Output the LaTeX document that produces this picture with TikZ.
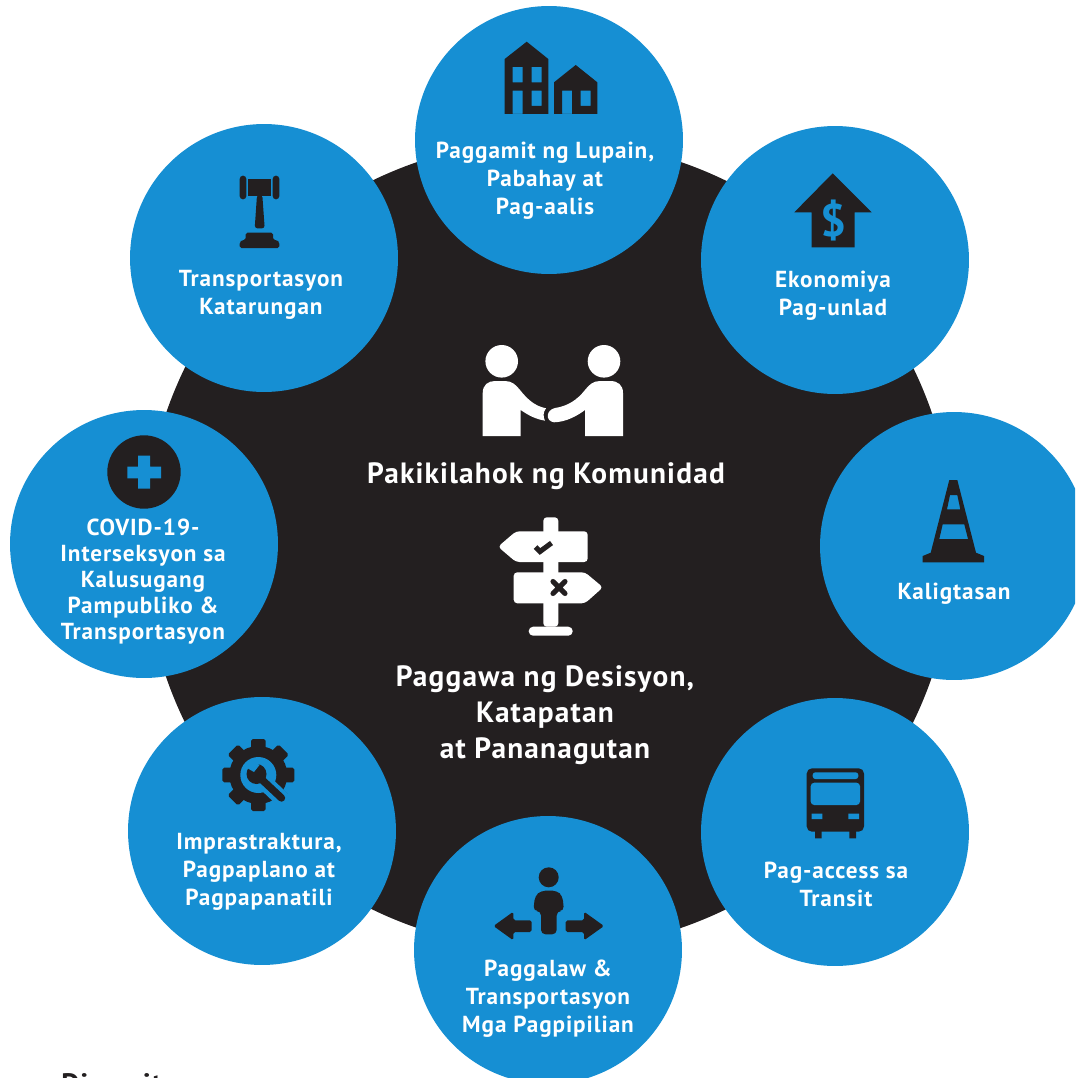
\documentclass[tikz,border=0pt]{standalone}
\usepackage{fontspec}
\setmainfont[LetterSpace=4]{PT Sans}
\definecolor{inkdark}{HTML}{231F20}
\definecolor{bubbleblue}{HTML}{168FD3}
\tikzset{
  bubble/.style={circle, fill=bubbleblue, minimum size=5.36cm, inner sep=0pt},
  bubbletext/.style={text=white, align=center, inner sep=0pt, font=\fontsize{13.2}{15.9}\selectfont\bfseries},
  hubtext/.style={text=white, align=center, inner sep=0pt, font=\fontsize{16.7}{20.5}\selectfont\bfseries},
  ink/.style={fill=inkdark},
  cutout/.style={fill=bubbleblue}
}

\begin{document}
\begin{tikzpicture}[x=0.02cm,y=-0.02cm]
            \path[use as bounding box,clip] (0,0) rectangle (1075,1078);

            % Hub
            \node[fill=inkdark, circle, minimum size=16.2cm, inner sep=0pt] (hub) at (549,545) {};

            % Bubbles
            \node[bubble] (lupain) at (549,140) {};
            \node[bubble] (ekonomiya) at (835,260) {};
            \node[bubble] (kaligtasan) at (954,546) {};
            \node[bubble] (transit) at (835,832) {};
            \node[bubble] (paggalaw) at (548,950) {};
            \node[bubble] (imprastraktura) at (262,831) {};
            \node[bubble] (covid) at (144,544) {};
            \node[bubble] (katarungan) at (264,258) {};

            % Houses
            \fill[ink, even odd rule] (526.7,41.7) -- (548.3,59) -- (548.3,114) -- (504.7,114) -- (504.7,59) -- cycle
                (512.7,67) rectangle (522.7,82.3) (531.7,67) rectangle (541.7,82.3)
                (512.7,90.7) rectangle (522.7,114) (531.7,90.7) rectangle (541.7,106);
            \fill[ink, even odd rule] (575.7,65) -- (597.3,82.3) -- (597.3,114) -- (554,114) -- (554,82.3) -- cycle
                (562,90.7) rectangle (572,114) (580.7,90.7) rectangle (590.7,106);

            % Dollar arrow
            \fill[ink] (832.7,173.3) -- (871.7,212.3) -- (854.7,212.3) -- (854.7,247.3) -- (811.7,247.3) -- (811.7,212.3) -- (794.3,212.3) -- cycle;
            \node[text=bubbleblue, inner sep=0pt, font=\fontsize{26}{26}\selectfont\bfseries] (dollar) at (833,221) {\$};

            % Cone
            \fill[ink, even odd rule] (949.3,480) -- (957.3,480) -- (976,552.7) -- (984,556) -- (984,562.3) -- (922.7,562.3) -- (922.7,556) -- (930.7,552.7) -- cycle
                (950,495) -- (957.3,495) -- (960.3,509.3) -- (947,509.3) -- cycle
                (942.7,524.3) -- (964.3,524.3) -- (968,539) -- (939.3,539) -- cycle;

            % Bus
            \fill[ink, rounded corners=3pt] (806.7,768.3) rectangle (864,831.7);
            \fill[ink] (815,830) rectangle (821.7,838.3) (849.3,830) rectangle (856,838.3);
            \fill[cutout, rounded corners=1.5pt] (812.7,772.3) rectangle (858.3,779);
            \fill[cutout, rounded corners=2pt] (810.7,782.7) rectangle (860,805);
            \fill[cutout] (811.7,813.7) rectangle (822.3,819) (848.3,813.7) rectangle (859,819);

            % Person with arrows
            \fill[ink] (548.7,877.3) circle[radius=10];
            \fill[ink, rounded corners=2.5pt] (541,934.3) -- (541,911) -- (533.3,911) -- (535,896) -- (541,890.7) -- (557,890.7) -- (562.5,896) -- (564,911) -- (556.7,911) -- (556.7,934.3) -- cycle;
            \fill[ink, rounded corners=1pt] (493.5,926) -- (513.3,911.7) -- (513.3,920.3) -- (531.7,920.3) -- (531.7,932) -- (513.3,932) -- (513.3,940.3) -- cycle;
            \fill[ink, rounded corners=1pt] (604,926) -- (584,911.7) -- (584,920.3) -- (565.7,920.3) -- (565.7,932) -- (584,932) -- (584,940.3) -- cycle;

            % Gear and wrench
            \foreach \a in {0,45,...,315}
                \fill[ink, rounded corners=1pt, rotate around={\a:(258.3,775)}] (251,739) rectangle (265.6,755);
            \fill[ink] (258.3,775) circle[radius=29];
            \fill[cutout] (258.3,775) circle[radius=18];
            \draw[bubbleblue, line width=9pt, line cap=round] (262,780) -- (282,799);
            \fill[ink] (256.5,774) circle[radius=10];
            \draw[inkdark, line width=4.2pt, line cap=round] (258,776) -- (281.5,798);
            \fill[cutout] (247,768) -- (254,772) -- (259.5,765) -- (252,760) -- cycle;

            % Cross
            \fill[ink] (144,472) circle[radius=36.7];
            \fill[cutout] (127.3,466.7) rectangle (161,478.3) (138,455.7) rectangle (150,488.7);

            % Gavel
            \fill[ink] (248.3,179) rectangle (271,196);
            \fill[ink, rounded corners=1.8pt] (239.7,175.7) rectangle (246.3,199.3) (272.7,175.7) rectangle (279.3,199.3);
            \fill[ink, rounded corners=1.5pt] (257,195) -- (262.3,195) -- (264.7,228.3) -- (254.7,228.3) -- cycle;
            \fill[ink, rounded corners=1pt] (239.7,248) -- (239.7,242) -- (242,240) -- (245.7,240) -- (245.7,232.7) -- (273,232.7) -- (273,240) -- (277,240) -- (279.3,242) -- (279.3,248) -- cycle;

            % Handshake
            \fill[white] (501.7,361.3) circle[radius=16.3] (604,361.3) circle[radius=16.3];
            \fill[white] (482.7,436) -- (482.7,393) .. controls (482.7,385) and (488,381) .. (495,381) -- (505,381) .. controls (512,381) and (516,385) .. (520,390) .. controls (528,400) and (535,406) .. (546,408.3) .. controls (543,412) and (543,417) .. (545,420.7) .. controls (535,419) and (528,415) .. (520.7,410) -- (520.7,436) -- cycle;
            \fill[white] (623,436) -- (623,393) .. controls (623,385) and (618,381) .. (610,381) -- (600,381) .. controls (593,381) and (589,385) .. (585,390) .. controls (577,400) and (568,406) .. (555,408) .. controls (546,410) and (545,421) .. (554,422.3) .. controls (566,422) and (577,416) .. (585,410) -- (585,436) -- cycle;

            % Signpost
            \fill[white, rounded corners=2pt] (543.3,626.7) -- (543.3,517.3) -- (558.3,517.3) -- (558.3,626.7) -- cycle;
            \fill[white, rounded corners=2pt] (498,546.7) -- (516,531.3) -- (587.7,531.3) -- (587.7,562) -- (516,562) -- cycle;
            \fill[white, rounded corners=2pt] (513.7,572.3) -- (585,572.3) -- (603,587.3) -- (585,603.3) -- (513.7,603.3) -- cycle;
            \fill[white, rounded corners=2.5pt] (528.7,626.7) rectangle (572.7,635.7);
            \draw[inkdark, line width=2.9pt] (535.5,547) -- (540,551.5) -- (551.5,543);
            \draw[inkdark, line width=2.9pt, line cap=round] (553,581.5) -- (565,593.5) (565,581.5) -- (553,593.5);

            % Labels
            \node[bubbletext] (lupaintext) at (545,180.5) {Paggamit ng Lupain,\\Pabahay at\\Pag-aalis};
            \node[bubbletext] (ekonomiyatext) at (833,296) {Ekonomiya\\Pag-unlad};
            \node[bubbletext] (kaligtasantext) at (954,594) {Kaligtasan};
            \node[bubbletext] (transittext) at (836,884) {Pag-access sa\\Transit};
            \node[bubbletext] (paggalawtext) at (548,999) {Paggalaw \&\\Transportasyon\\Mga Pagpipilian};
            \node[bubbletext] (imprastrakturatext) at (259,872) {Imprastraktura,\\Pagpaplano at\\Pagpapanatili};
            \node[bubbletext, font=\fontsize{13.2}{14.8}\selectfont\bfseries] (covidtext) at (143,582) {COVID-19-\\Interseksyon sa\\Kalusugang\\Pampubliko \&\\Transportasyon};
            \node[bubbletext] (katarungantext) at (261,295) {Transportasyon\\Katarungan};
            \node[hubtext] (komunidad) at (546,476) {Pakikilahok ng Komunidad};
            \node[hubtext] (desisyon) at (545,715) {Paggawa ng Desisyon,\\Katapatan\\at Pananagutan};

            % Cut off at the page edge
            \node[anchor=base west, inner sep=0pt, text=inkdark, font=\fontsize{16}{18}\selectfont\bfseries] (diversity) at (61,1093) {Diversity};
\end{tikzpicture}
\end{document}
